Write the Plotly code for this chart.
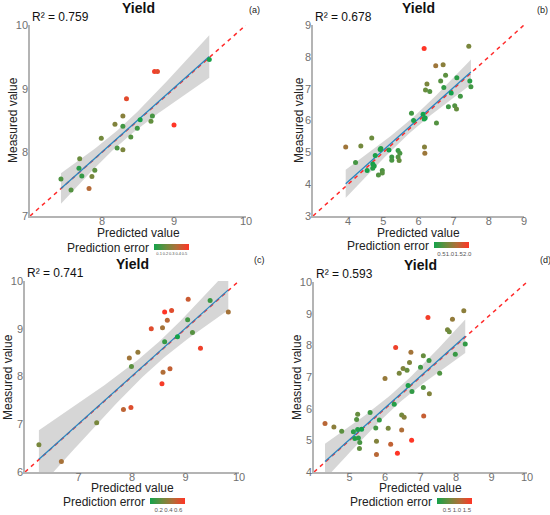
import numpy as np
import plotly.graph_objects as go

# ---- data ----
a_pred = [9.49, 8.73, 8.77, 8.34, 8.29, 8.18, 8.29, 8.53, 8.70, 8.68, 8.49, 9.00,
          7.99, 8.40, 8.21, 8.29, 7.69, 7.68, 7.72, 7.90, 7.86, 7.43, 7.57, 7.82]
a_meas = [9.46, 9.27, 9.27, 8.84, 8.57, 8.44, 8.41, 8.51, 8.57, 8.49, 8.38, 8.43,
          8.22, 8.24, 8.07, 8.04, 7.90, 7.75, 7.63, 7.72, 7.62, 7.58, 7.41, 7.43]

b_pred = [6.16, 7.43, 6.49, 6.70, 6.77, 7.09, 6.24, 6.63, 7.46, 7.49, 6.72, 6.20,
          6.32, 6.93, 7.19, 6.85, 7.03, 7.08, 5.80, 6.13, 5.86, 6.19, 6.16, 6.51,
          4.67, 3.93, 4.36, 4.93, 4.91, 5.16, 5.42, 5.47, 4.77, 5.24, 5.42, 5.24,
          5.45, 4.21, 4.70, 4.74, 4.70, 6.17, 6.18, 4.54, 4.97, 4.97, 4.86]
b_meas = [8.26, 8.33, 7.72, 7.75, 7.42, 7.34, 7.15, 7.24, 7.24, 7.06, 7.04, 6.96,
          6.91, 6.86, 6.76, 6.43, 6.46, 6.36, 6.23, 6.20, 6.00, 6.08, 6.05, 5.92,
          5.45, 5.17, 5.20, 5.12, 5.09, 5.07, 5.06, 4.97, 4.90, 4.85, 4.85, 4.75,
          4.74, 4.68, 4.63, 4.57, 4.50, 5.17, 4.97, 4.43, 4.43, 4.35, 4.29]

c_pred = [9.05, 9.46, 8.61, 8.74, 9.80, 8.66, 9.04, 8.36, 8.57, 9.13, 8.85, 8.61,
          8.11, 7.95, 9.28, 7.99, 8.71, 8.58, 8.56, 7.84, 7.98, 7.34, 6.26, 6.68]
c_meas = [9.62, 9.59, 9.35, 9.38, 9.35, 9.18, 9.19, 9.00, 9.02, 8.92, 8.83, 8.73,
          8.51, 8.39, 8.59, 8.21, 8.16, 8.09, 7.85, 7.31, 7.35, 7.03, 6.57, 6.22]

d_pred = [8.22, 7.21, 7.90, 7.76, 7.81, 8.26, 6.30, 6.73, 7.08, 7.98, 6.69, 7.24,
          7.00, 6.51, 6.62, 6.40, 7.54, 6.00, 6.65, 7.08, 6.76, 7.25, 6.26, 5.58,
          5.23, 5.20, 5.84, 6.47, 6.54, 7.09, 4.31, 4.56, 4.78, 5.11, 5.23, 5.34,
          5.74, 6.09, 6.47, 5.15, 5.25, 5.29, 5.28, 5.76, 6.16, 6.75, 5.76, 6.35]
d_meas = [9.09, 8.88, 8.82, 8.49, 8.43, 8.04, 7.93, 7.78, 7.67, 7.72, 7.46, 7.52,
          7.31, 7.27, 7.21, 7.12, 7.12, 6.95, 6.73, 6.67, 6.54, 6.47, 6.14, 5.88,
          5.82, 5.66, 5.64, 5.80, 5.73, 5.77, 5.53, 5.42, 5.29, 5.27, 5.34, 5.35,
          5.39, 5.38, 5.33, 5.06, 5.07, 4.93, 4.74, 4.97, 4.88, 5.00, 4.55, 4.59]

r2_labels = ["R² = 0.759", "R² = 0.678", "R² = 0.741", "R² = 0.593"]
panel_tags = ["(a)", "(b)", "(c)", "(d)"]
axis_ranges = [[7, 10], [3, 9], [6, 10], [4, 10]]
error_ticks = [[0.1, 0.2, 0.3, 0.4, 0.5], [0.5, 1.0, 1.5, 2.0], [0.2, 0.4, 0.6], [0.5, 1.0, 1.5]]

panels = [(a_pred, a_meas), (b_pred, b_meas), (c_pred, c_meas), (d_pred, d_meas)]

# ---- layout positions (pixels in a 550x515 page) ----
W, H = 550, 515
boxes = [(30, 246, 25, 216), (313, 524, 25, 216), (25, 239, 281, 472), (314, 527, 282, 472)]
tag_pos = [(254, 10), (542, 10), (259, 260), (545, 260)]
xtitle_pos = [(138, 233), (418, 233), (132, 488), (420, 488)]
ytitle_pos = [(13, 120), (299, 120), (8, 377), (297, 377)]
cbar_pos = [(154, 244, 4), (434, 242, 6), (150, 498, 6), (437, 498, 6)]
font = "Arial, Liberation Sans, sans-serif"

scale = [[0, "#14a24a"], [0.35, "#6c8c3e"], [0.65, "#b06e38"], [1, "#ff3526"]]


def t975(df):
    z = 1.959964
    return z + (z**3 + z) / (4 * df) + (5 * z**5 + 16 * z**3 + 3 * z) / (96 * df**2)


def px(x):
    return x / W


def py(y):
    return 1 - y / H


fig = go.Figure()
annotations = []
layout = {}

for i, (pred, meas) in enumerate(panels):
    x = np.array(pred)
    y = np.array(meas)
    k = "" if i == 0 else str(i + 1)
    xa, ya = "x" + k, "y" + k
    lo, hi = axis_ranges[i]

    # linear fit with 95% confidence band
    b, a = np.polyfit(x, y, 1)
    n = len(x)
    xs = np.linspace(x.min(), x.max(), 80)
    fit = a + b * xs
    s = np.sqrt(np.sum((y - (a + b * x)) ** 2) / (n - 2))
    se = s * np.sqrt(1 / n + (xs - x.mean()) ** 2 / np.sum((x - x.mean()) ** 2))
    band = t975(n - 2) * se

    fig.add_trace(go.Scatter(x=np.concatenate([xs, xs[::-1]]),
                             y=np.concatenate([fit + band, (fit - band)[::-1]]),
                             fill="toself", fillcolor="rgba(200,200,200,0.75)",
                             line=dict(width=0), hoverinfo="skip",
                             xaxis=xa, yaxis=ya, showlegend=False))
    fig.add_trace(go.Scatter(x=[lo, hi], y=[lo, hi], mode="lines",
                             line=dict(color="#ff2a2a", width=1.5, dash="4px,4px"),
                             xaxis=xa, yaxis=ya, showlegend=False))
    fig.add_trace(go.Scatter(x=xs, y=fit, mode="lines",
                             line=dict(color="#2a86c0", width=1.3),
                             xaxis=xa, yaxis=ya, showlegend=False))
    err = np.abs(y - x)
    fig.add_trace(go.Scatter(x=x, y=y, mode="markers",
                             marker=dict(size=5, color=err, coloraxis="coloraxis" + k),
                             xaxis=xa, yaxis=ya, showlegend=False))

    x0, x1, y0, y1 = boxes[i]
    axis_style = dict(showgrid=False, zeroline=False, showline=True, linecolor="#b4b4b4",
                      linewidth=1.5, ticks="", tickfont=dict(size=11, color="#707070"),
                      range=[lo, hi], automargin=False)
    layout["xaxis" + k] = dict(axis_style, domain=[px(x0), px(x1)], anchor=ya,
                               ticklabelstandoff=-6,
                               tickvals=list(range(lo + 1, hi + 1)))
    layout["yaxis" + k] = dict(axis_style, domain=[py(y1), py(y0)], anchor=xa,
                               ticklabelstandoff=-2,
                               tickvals=list(range(lo, hi + 1)))

    cx, cy, fs = cbar_pos[i]
    layout["coloraxis" + k] = dict(
        colorscale=scale,
        colorbar=dict(orientation="h", x=px(cx), y=py(cy), xanchor="left", yanchor="top",
                      lenmode="pixels", len=35, thickness=6, outlinewidth=0,
                      tickvals=error_ticks[i], tickformat=".1f", ticks="", tickangle=0,
                      ticklabelposition="outside bottom",
                      tickfont=dict(size=fs, color="#555"), ypad=0, xpad=0))

    tx, ty = tag_pos[i]
    xtx, xty = xtitle_pos[i]
    ytx, yty = ytitle_pos[i]
    annotations += [
        dict(text="<b>Yield</b>", x=px((x0 + x1) / 2), y=py(y0 - 17),
             font=dict(size=14, color="#111")),
        dict(text=panel_tags[i], x=px(tx), y=py(ty), font=dict(size=9, color="#222")),
        dict(text=r2_labels[i], x=px(x0), y=py(y0 - 8), xanchor="left",
             font=dict(size=12, color="#111")),
        dict(text="Predicted value", x=px(xtx), y=py(xty), font=dict(size=12, color="#222")),
        dict(text="Measured value", x=px(ytx), y=py(yty), textangle=-90,
             font=dict(size=12, color="#222")),
        dict(text="Prediction error", x=px(cx - 3), y=py(cy + 4), xanchor="right",
             font=dict(size=12, color="#222")),
    ]

for an in annotations:
    an.update(xref="paper", yref="paper", showarrow=False, font_family=font)
    an.setdefault("xanchor", "center")
    an["yanchor"] = "middle"

fig.update_layout(width=W, height=H, margin=dict(l=0, r=0, t=0, b=0),
                  paper_bgcolor="white", plot_bgcolor="white",
                  font=dict(family=font), annotations=annotations, **layout)

# the page's default body margin would shift the figure by 8px
fig.write_html("out.html", config={"displayModeBar": False},
               post_script="document.body.style.margin = '0';")
